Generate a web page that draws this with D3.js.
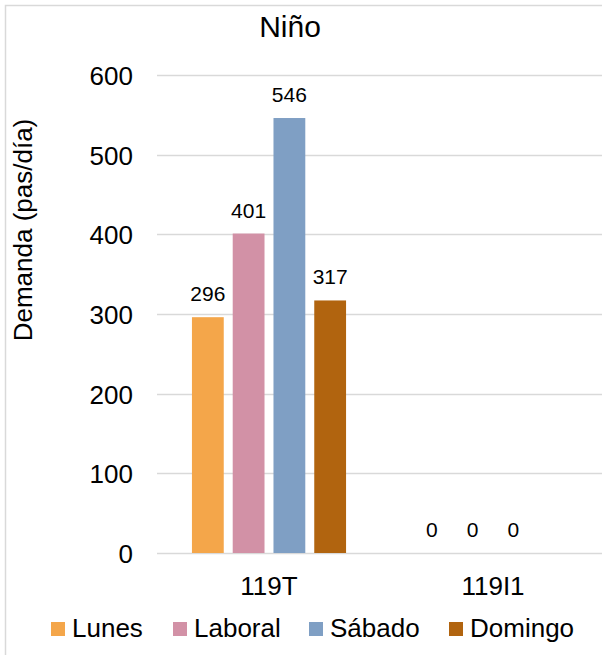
<!DOCTYPE html>
<html>
<head>
<meta charset="utf-8">
<script src="https://cdn.jsdelivr.net/npm/d3@7"></script>
<style>
  html, body { margin: 0; padding: 0; background: #fff; }
  text { font-family: "Liberation Sans", Arial, sans-serif; fill: #000; }
</style>
</head>
<body>
<svg id="chart" width="602" height="655"></svg>
<script>
// Demand per route, by day type
const categories = ["119T", "119I1"];
const series = ["Lunes", "Laboral", "Sábado", "Domingo"];
const colors = ["#f4a64a", "#d291a6", "#7f9fc4", "#b1640f"];
const lunes   = [296, 0];
const laboral = [401, 0];
const sabado  = [546, 0];
const domingo = [317, null];
const yTicks = [0, 100, 200, 300, 400, 500, 600];

const values = [lunes, laboral, sabado, domingo];

const svg = d3.select("#chart");

// outer frame (only the top and left edges fall inside the view)
svg.append("rect")
  .attr("x", 5.5).attr("y", 5.5)
  .attr("width", 700).attr("height", 700)
  .attr("fill", "none").attr("stroke", "#d9d9d9").attr("stroke-width", 1.5);

const plot = { left: 157, right: 605, top: 75, bottom: 553 };

const y = d3.scaleLinear().domain([0, 600]).range([plot.bottom, plot.top]);
const x0 = d3.scaleBand().domain(categories).range([plot.left, plot.right]);
const bw = x0.bandwidth();
const x1 = d3.scaleBand().domain(series)
  .range([bw * 0.156, bw * 0.844]).paddingInner(0.22);

// gridlines
svg.append("g")
  .selectAll("line").data(yTicks).join("line")
  .attr("x1", plot.left).attr("x2", 602)
  .attr("y1", d => Math.round(y(d)) + 0.5).attr("y2", d => Math.round(y(d)) + 0.5)
  .attr("stroke", "#d9d9d9").attr("stroke-width", 1.5);

// y axis labels
const yAxis = d3.axisLeft(y).tickValues(yTicks).tickSize(0).tickPadding(0);
const gy = svg.append("g").attr("transform", `translate(133,0)`).call(yAxis);
gy.select(".domain").remove();
gy.selectAll("text")
  .attr("font-size", 26).attr("font-family", "Liberation Sans, Arial, sans-serif")
  .attr("fill", "#000").attr("dy", "0.36em");

// y axis title
svg.append("text")
  .attr("transform", "translate(32,230) rotate(-90)")
  .attr("text-anchor", "middle")
  .attr("font-size", 26)
  .text("Demanda (pas/día)");

// title
svg.append("text")
  .attr("x", 290).attr("y", 37)
  .attr("text-anchor", "middle")
  .attr("font-size", 30)
  .text("Niño");

// bars
const groups = svg.append("g").selectAll("g").data(categories).join("g")
  .attr("transform", d => `translate(${x0(d)},0)`);

groups.each(function(cat, ci) {
  const g = d3.select(this);
  series.forEach((s, si) => {
    const v = values[si][ci];
    if (v === null) return;
    g.append("rect")
      .attr("x", x1(s)).attr("width", x1.bandwidth())
      .attr("y", y(v)).attr("height", y(0) - y(v))
      .attr("fill", colors[si]);
    g.append("text")
      .attr("x", x1(s) + x1.bandwidth() / 2)
      .attr("y", y(v) - 16)
      .attr("text-anchor", "middle")
      .attr("font-size", 21)
      .text(v);
  });
});

// category axis
const xAxis = d3.axisBottom(x0).tickSize(0).tickPadding(0);
const gx = svg.append("g").attr("transform", `translate(0,${plot.bottom})`).call(xAxis);
gx.select(".domain").remove();
gx.selectAll("text")
  .attr("font-size", 26).attr("font-family", "Liberation Sans, Arial, sans-serif")
  .attr("fill", "#000").attr("dy", 0).attr("y", 42);

// legend
const legendX = [51, 173, 309, 449];
const legend = svg.append("g").selectAll("g").data(series).join("g")
  .attr("transform", (d, i) => `translate(${legendX[i]},622)`);
legend.append("rect").attr("width", 14).attr("height", 14)
  .attr("fill", (d, i) => colors[i]);
legend.append("text").attr("x", 21).attr("y", 15)
  .attr("font-size", 26).text(d => d);
</script>
</body>
</html>
